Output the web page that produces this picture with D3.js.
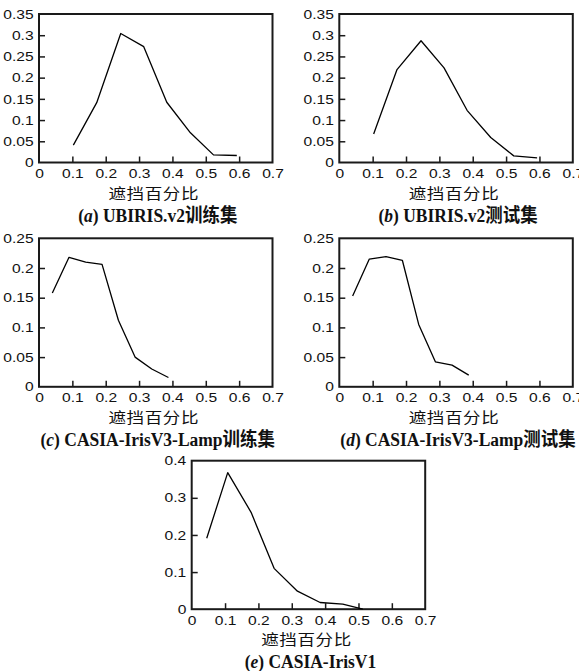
<!DOCTYPE html>
<html>
<head>
<meta charset="utf-8">
<script src="https://cdn.jsdelivr.net/npm/d3@7/dist/d3.min.js"></script>
<style>
  body { margin: 0; background: #fff; }
  text { fill: #111; }
</style>
</head>
<body>
<svg width="579" height="671"></svg>
<script>
// occlusion ratio on x, proportion on y
var xTicks = [0, 0.1, 0.2, 0.3, 0.4, 0.5, 0.6, 0.7];
var yTicksUbiris = [0, 0.05, 0.1, 0.15, 0.2, 0.25, 0.3, 0.35];
var yTicksLamp = [0, 0.05, 0.1, 0.15, 0.2, 0.25];
var yTicksV1 = [0, 0.1, 0.2, 0.3, 0.4];

var xUbiris = [0.103, 0.173, 0.245, 0.314, 0.383, 0.454, 0.523, 0.593];
var ubirisTrain = [0.041, 0.141, 0.304, 0.273, 0.142, 0.070, 0.018, 0.0165];
var ubirisTest = [0.067, 0.219, 0.287, 0.223, 0.123, 0.059, 0.0156, 0.011];

var xLamp = [0.040, 0.090, 0.140, 0.189, 0.238, 0.288, 0.338, 0.388];
var lampTrain = [0.158, 0.218, 0.210, 0.206, 0.112, 0.050, 0.030, 0.0157];
var lampTest = [0.153, 0.215, 0.219, 0.213, 0.105, 0.042, 0.0365, 0.0197];

var xV1 = [0.045, 0.108, 0.178, 0.247, 0.317, 0.385, 0.453, 0.513];
var irisV1 = [0.191, 0.368, 0.261, 0.110, 0.0485, 0.018, 0.0135, 0];

var xTitle = "遮挡百分比";

var panels = [
  {tag: "a", name: " UBIRIS.v2训练集", xs: xUbiris, ys: ubirisTrain, yTicks: yTicksUbiris, left: 39, top: 14},
  {tag: "b", name: " UBIRIS.v2测试集", xs: xUbiris, ys: ubirisTest, yTicks: yTicksUbiris, left: 339.3, top: 14},
  {tag: "c", name: " CASIA-IrisV3-Lamp训练集", xs: xLamp, ys: lampTrain, yTicks: yTicksLamp, left: 39, top: 238.3},
  {tag: "d", name: " CASIA-IrisV3-Lamp测试集", xs: xLamp, ys: lampTest, yTicks: yTicksLamp, left: 339.3, top: 238.3},
  {tag: "e", name: " CASIA-IrisV1", xs: xV1, ys: irisV1, yTicks: yTicksV1, left: 191.7, top: 460.7}
];

var svg = d3.select("svg"),
    width = 233.5,
    height = 148.5;

var sansFont = "'Liberation Sans', Arial, sans-serif";

const drawPanel = (p) => {
  var g = svg.append("g").attr("transform", "translate(" + p.left + "," + p.top + ")");

  var x = d3.scaleLinear().domain([0, 0.7]).range([0, width]);
  var y = d3.scaleLinear().domain([0, d3.max(p.yTicks)]).range([height, 0]);

  var line = d3.line()
    .x(d => x(d[0]))
    .y(d => y(d[1]));

  // ticks point inward
  var xAxis = g.append("g")
    .attr("transform", "translate(0," + height + ")")
    .call(d3.axisBottom(x).tickValues(xTicks).tickSize(-6).tickFormat(d3.format("~g")));
  xAxis.select(".domain").remove();
  xAxis.selectAll(".tick line")
    .attr("stroke", "#1a1a1a")
    .attr("stroke-width", 1.5)
    .filter(d => d === 0 || d === 0.7).remove();
  xAxis.selectAll(".tick text")
    .attr("font-family", sansFont)
    .attr("font-size", 13)
    .attr("fill", "#111")
    .attr("dy", null)
    .attr("y", 15.5)
    .attr("transform", "scale(1.2,1)");

  var yAxis = g.append("g")
    .call(d3.axisLeft(y).tickValues(p.yTicks).tickSize(-6).tickFormat(d3.format("~g")));
  yAxis.select(".domain").remove();
  yAxis.selectAll(".tick line")
    .attr("stroke", "#1a1a1a")
    .attr("stroke-width", 1.5)
    .filter(d => d === 0 || d === d3.max(p.yTicks)).remove();
  yAxis.selectAll(".tick text")
    .attr("font-family", sansFont)
    .attr("font-size", 13)
    .attr("fill", "#111")
    .attr("x", -4.5)
    .attr("transform", "scale(1.2,1)");

  // frame
  g.append("rect")
    .attr("width", width)
    .attr("height", height)
    .attr("fill", "none")
    .attr("stroke", "#1a1a1a")
    .attr("stroke-width", 2);

  g.append("path")
    .datum(d3.zip(p.xs, p.ys))
    .attr("fill", "none")
    .attr("stroke", "#000")
    .attr("stroke-linejoin", "round")
    .attr("stroke-width", 1.3)
    .attr("d", line);

  g.append("text")
    .attr("transform", "translate(" + (width / 2 - 2) + "," + (height + 36) + ") scale(1.17,1)")
    .attr("text-anchor", "middle")
    .attr("font-family", "'Noto Sans CJK SC', sans-serif")
    .attr("font-size", 15)
    .attr("letter-spacing", 0.5)
    .text(xTitle);

  var cap = g.append("text")
    .attr("transform", "translate(" + (width / 2 + 2) + "," + (height + 59) + ") scale(0.92,1)")
    .attr("text-anchor", "middle")
    .attr("font-family", "'Liberation Serif', 'Noto Sans CJK SC', serif")
    .attr("font-weight", "bold")
    .attr("font-size", 19);
  cap.append("tspan").text("(");
  cap.append("tspan").attr("font-style", "italic").text(p.tag);
  cap.append("tspan").text(")" + p.name);
}

for(const p of panels){
  drawPanel(p);
}
</script>
</body>
</html>
